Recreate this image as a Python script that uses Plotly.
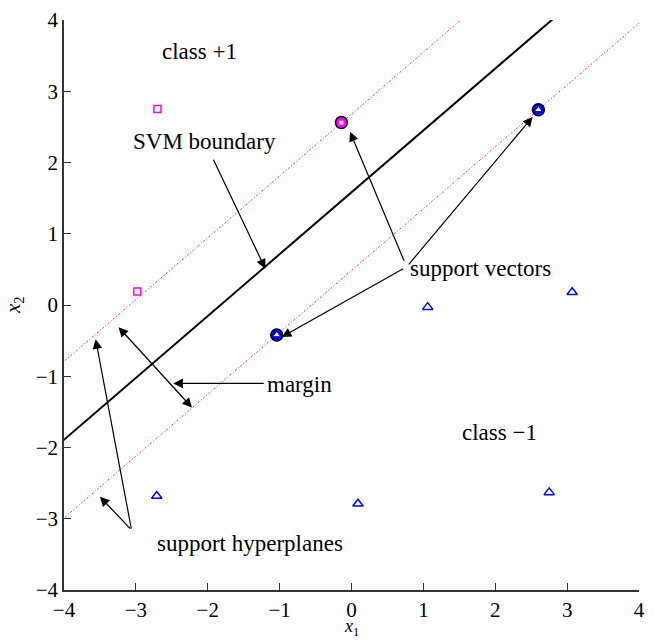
import plotly.graph_objects as go
import numpy as np

# ---- data ----
pos_x = [-2.70, -2.98]
pos_y = [2.75, 0.19]
neg_x = [-2.71, 0.09, 1.06, 3.07, 2.75]
neg_y = [-2.68, -2.79, -0.03, 0.18, -2.63]
sv_pos_x = [-0.14]
sv_pos_y = [2.56]
sv_neg_x = [2.60, -1.04]
sv_neg_y = [2.74, -0.42]

slope = 0.868
b_upper = 2.68
b_lower = 0.483
b_mid = (b_upper + b_lower) / 2

tick_vals = [-4, -3, -2, -1, 0, 1, 2, 3, 4]
tick_text = ["\u22124", "\u22123", "\u22122", "\u22121", "0", "1", "2", "3", "4"]

FONT = "Liberation Serif, Times New Roman, serif"
FS = 23

line_x = np.linspace(-4.5, 4.5, 2)

fig = go.Figure()
fig.add_trace(go.Scatter(x=line_x, y=slope * line_x + b_upper, mode="lines",
                         line=dict(color="#ff3030", width=1, dash="2px,2px,1px,2px")))
fig.add_trace(go.Scatter(x=line_x, y=slope * line_x + b_lower, mode="lines",
                         line=dict(color="#ff3030", width=1, dash="2px,2px,1px,2px")))
fig.add_trace(go.Scatter(x=line_x, y=slope * line_x + b_mid, mode="lines",
                         line=dict(color="black", width=2)))

fig.add_trace(go.Scatter(x=pos_x, y=pos_y, mode="markers",
                         marker=dict(symbol="square-open", size=7, color="magenta",
                                     line=dict(width=1.5, color="magenta"))))
fig.add_trace(go.Scatter(x=neg_x, y=neg_y, mode="markers",
                         marker=dict(symbol="triangle-up-open", size=9, color="blue",
                                     line=dict(width=1.5, color="blue"))))
# support vectors
fig.add_trace(go.Scatter(x=sv_pos_x, y=sv_pos_y, mode="markers",
                         marker=dict(symbol="circle", size=12, color="magenta",
                                     line=dict(width=1.5, color="black"))))
fig.add_trace(go.Scatter(x=sv_pos_x, y=sv_pos_y, mode="markers",
                         marker=dict(symbol="square", size=5, color="#ffd0ff",
                                     line=dict(width=1, color="magenta"))))
fig.add_trace(go.Scatter(x=sv_neg_x, y=sv_neg_y, mode="markers",
                         marker=dict(symbol="circle", size=12, color="blue",
                                     line=dict(width=1.5, color="black"))))
fig.add_trace(go.Scatter(x=sv_neg_x, y=sv_neg_y, mode="markers",
                         marker=dict(symbol="triangle-up", size=7, color="white",
                                     line=dict(width=1, color="blue"))))

ann = []
def txt(x, y, s):
    ann.append(dict(x=x, y=y, text=s, showarrow=False, xref="x", yref="y",
                    font=dict(family=FONT, size=FS, color="black")))

def arrow(tx, ty, hx, hy, both=False):
    ann.append(dict(x=hx, y=hy, ax=tx, ay=ty, xref="x", yref="y", axref="x", ayref="y",
                    text="", showarrow=True, arrowhead=2, arrowsize=1.6, arrowwidth=1.2,
                    arrowcolor="black", arrowside="end+start" if both else "end",
                    startarrowhead=2, startarrowsize=1.6, standoff=0, startstandoff=0))

txt(-2.11, 3.56, "class +1")
txt(2.06, -1.79, "class \u22121")
txt(-2.04, 2.30, "SVM boundary")
txt(1.79, 0.51, "support vectors")
txt(-0.72, -1.12, "margin")
txt(-1.41, -3.35, "support hyperplanes")

arrow(-1.93, 2.06, -1.20, 0.51)
arrow(0.74, 0.60, -0.02, 2.43)
arrow(0.78, 0.55, 2.52, 2.64)
arrow(0.74, 0.52, -0.97, -0.45)
arrow(-1.20, -1.10, -2.48, -1.10)
arrow(-3.26, -0.29, -2.22, -1.44, both=True)
arrow(-3.06, -3.16, -3.56, -0.48)
arrow(-3.06, -3.16, -3.50, -2.69)

# axis titles
ann.append(dict(x=0.5, y=0, xref="paper", yref="paper", yshift=-50, xanchor="center",
                yanchor="bottom", showarrow=False, text="<i>x</i><sub>1</sub>",
                borderpad=0, font=dict(family=FONT, size=18, color="black")))
ann.append(dict(x=0, y=0.5, xref="paper", yref="paper", xshift=-50, xanchor="center",
                yanchor="middle", showarrow=False, text="<i>x</i><sub>2</sub>", textangle=-90,
                font=dict(family=FONT, size=21, color="black")))

fig.update_layout(
    width=655, height=640,
    margin=dict(l=64, r=16, t=20, b=50),
    plot_bgcolor="white", paper_bgcolor="white",
    showlegend=False,
    annotations=ann,
    font=dict(family=FONT, size=FS, color="black"),
)
fig.update_xaxes(range=[-4, 4], tickvals=tick_vals, ticktext=tick_text, automargin=False,
                 ticks="inside", ticklen=7, tickcolor="#333", showgrid=False, zeroline=False,
                 showline=True, linecolor="#333", linewidth=1.5,
                 tickfont=dict(family=FONT, size=21))
fig.update_yaxes(range=[-4, 4], tickvals=tick_vals, ticktext=tick_text, automargin=False,
                 ticks="inside", ticklen=7, tickcolor="#333", showgrid=False, zeroline=False,
                 showline=True, linecolor="#333", linewidth=1.5,
                 tickfont=dict(family=FONT, size=21))

fig.write_html("out.html")
